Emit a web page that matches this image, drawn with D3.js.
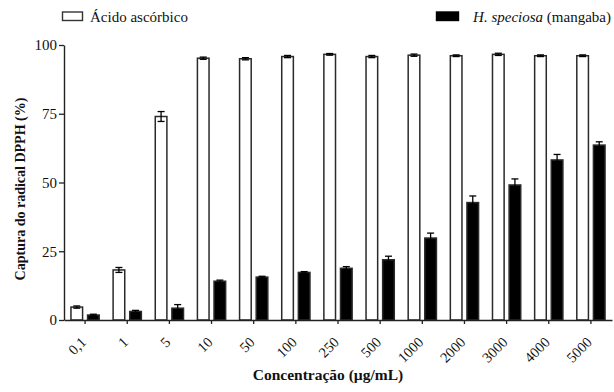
<!DOCTYPE html>
<html>
<head>
<meta charset="utf-8">
<script src="https://cdn.jsdelivr.net/npm/d3@7/dist/d3.min.js"></script>
<style>
  html, body { margin: 0; padding: 0; background: #fff; }
  svg { display: block; }
  text { font-family: "Liberation Serif", "Times New Roman", serif; fill: #111; }
</style>
</head>
<body>
<svg id="chart" width="614" height="392"></svg>
<script>
// Concentrations (µg/mL) shown on the x axis
const categories = ["0,1", "1", "5", "10", "50", "100", "250", "500", "1000", "2000", "3000", "4000", "5000"];

// DPPH radical scavenging (%) — ascorbic acid
const ascorbicMean = [4.7, 18.2, 74.0, 95.2, 95.0, 95.8, 96.6, 95.8, 96.3, 96.1, 96.6, 96.1, 96.1];
const ascorbicErr  = [0.4, 0.9, 1.8, 0.4, 0.4, 0.4, 0.3, 0.4, 0.4, 0.3, 0.4, 0.3, 0.3];

// DPPH radical scavenging (%) — H. speciosa (mangaba) extract
const mangabaMean = [1.8, 3.1, 4.3, 14.1, 15.6, 17.3, 18.8, 21.9, 29.8, 42.7, 49.1, 58.2, 63.6];
const mangabaErr  = [0.3, 0.4, 1.3, 0.4, 0.3, 0.3, 0.6, 1.3, 1.8, 2.4, 2.2, 2.0, 1.2];

const yTicks = [0, 25, 50, 75, 100];
const seriesNames = ["Ácido ascórbico", "H. speciosa (mangaba)"];

const series = [
  { key: "asc", name: seriesNames[0], mean: ascorbicMean, err: ascorbicErr, fill: "#fff" },
  { key: "man", name: seriesNames[1], mean: mangabaMean, err: mangabaErr, fill: "#000" }
];

const svg = d3.select("#chart");
const plot = { left: 64, right: 612, top: 45, bottom: 320 };
const serif = "'Liberation Serif', 'Times New Roman', serif";

const x0 = d3.scaleBand().domain(categories).range([plot.left, plot.right]).paddingInner(0.33).paddingOuter(0.165);
const x1 = d3.scaleBand().domain(series.map(s => s.key)).range([0, x0.bandwidth()]).paddingInner(0.3);
const y = d3.scaleLinear().domain([0, 100]).range([plot.bottom, plot.top]);

// Bars
const groups = svg.append("g").selectAll("g")
  .data(categories)
  .join("g")
  .attr("transform", d => `translate(${x0(d)},0)`);

series.forEach(s => {
  groups.append("rect")
    .attr("x", x1(s.key))
    .attr("width", x1.bandwidth())
    .attr("y", (d, i) => y(s.mean[i]))
    .attr("height", (d, i) => y(0) - y(s.mean[i]))
    .attr("fill", s.fill)
    .attr("stroke", "#2a2a2a")
    .attr("stroke-width", 1.5);
});

// Error bars (mean ± SD)
const capHalf = 3.5;
series.forEach(s => {
  const cx = x1(s.key) + x1.bandwidth() / 2;
  const eb = groups.append("g").attr("stroke", "#000").attr("stroke-width", 1.3);
  eb.append("line")
    .attr("x1", cx).attr("x2", cx)
    .attr("y1", (d, i) => y(s.mean[i] + s.err[i]))
    .attr("y2", (d, i) => y(s.mean[i] - s.err[i]));
  eb.append("line")
    .attr("x1", cx - capHalf).attr("x2", cx + capHalf)
    .attr("y1", (d, i) => y(s.mean[i] + s.err[i]))
    .attr("y2", (d, i) => y(s.mean[i] + s.err[i]));
  eb.append("line")
    .attr("x1", cx - capHalf).attr("x2", cx + capHalf)
    .attr("y1", (d, i) => y(s.mean[i] - s.err[i]))
    .attr("y2", (d, i) => y(s.mean[i] - s.err[i]));
});

// Y axis
const yAxis = svg.append("g")
  .attr("transform", `translate(${plot.left},0)`)
  .call(d3.axisLeft(y).tickValues(yTicks).tickSize(5).tickPadding(2).tickSizeOuter(0));
yAxis.select(".domain").attr("stroke", "#222").attr("stroke-width", 1.4);
yAxis.selectAll(".tick line").attr("stroke", "#222").attr("stroke-width", 1.3);
yAxis.selectAll(".tick text")
  .style("font-family", serif)
  .style("font-size", "15px")
  .attr("fill", "#111");

// X axis
const xAxis = svg.append("g")
  .attr("transform", `translate(0,${plot.bottom})`)
  .call(d3.axisBottom(x0).tickSize(4).tickSizeOuter(0));
xAxis.select(".domain").attr("stroke", "#222").attr("stroke-width", 1.4);
xAxis.selectAll(".tick line").attr("stroke", "#222").attr("stroke-width", 1.3);
xAxis.selectAll(".tick text")
  .style("font-family", serif)
  .style("font-size", "14.5px")
  .attr("fill", "#111")
  .attr("text-anchor", "end")
  .attr("x", 0)
  .attr("y", 0)
  .attr("dy", null)
  .attr("transform", "translate(2,23) rotate(-45)");

// Axis titles
svg.append("text")
  .attr("transform", `translate(25,189) rotate(-90)`)
  .attr("text-anchor", "middle")
  .style("font-family", serif)
  .style("font-size", "14px")
  .style("font-weight", "bold")
  .text("Captura do radical DPPH (%)");

svg.append("text")
  .attr("x", 328)
  .attr("y", 380)
  .attr("text-anchor", "middle")
  .style("font-family", serif)
  .style("font-size", "15.5px")
  .style("font-weight", "bold")
  .text("Concentração (µg/mL)");

// Legend
const legend = svg.append("g").style("font-family", serif).style("font-size", "15px");
legend.append("rect")
  .attr("x", 62.5).attr("y", 12).attr("width", 20).attr("height", 8.5)
  .attr("fill", "#fff").attr("stroke", "#333").attr("stroke-width", 1.4);
legend.append("text")
  .attr("x", 90).attr("y", 21.5)
  .text(seriesNames[0]);

legend.append("rect")
  .attr("x", 436.5).attr("y", 12).attr("width", 22).attr("height", 8.5)
  .attr("fill", "#000").attr("stroke", "#000").attr("stroke-width", 1.4);
const t2 = legend.append("text")
  .attr("x", 611).attr("y", 21.5)
  .attr("text-anchor", "end");
t2.append("tspan").style("font-style", "italic").text("H. speciosa");
t2.append("tspan").text(" (mangaba)");
</script>
</body>
</html>
